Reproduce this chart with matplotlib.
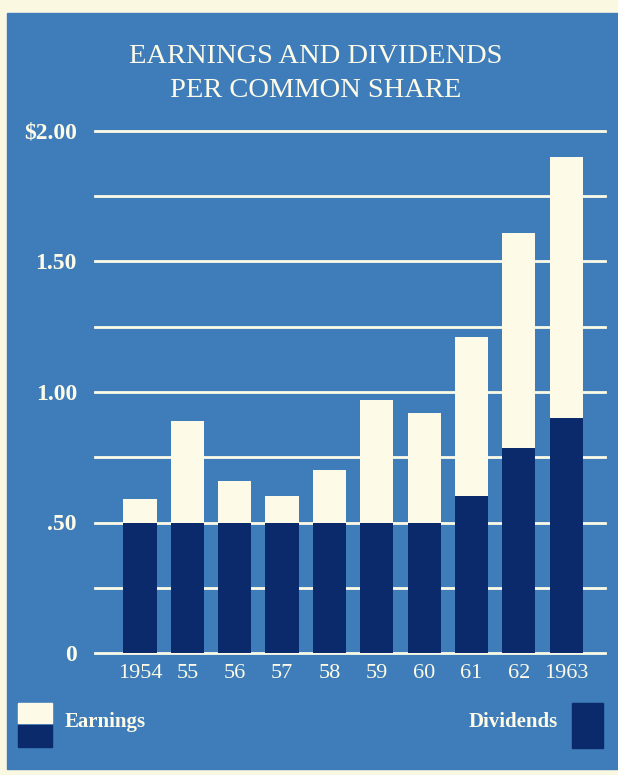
import matplotlib.pyplot as plt
from matplotlib.patches import Rectangle

# Earnings and dividends per common share, 1954-1963
years = ["1954", "55", "56", "57", "58", "59", "60", "61", "62", "1963"]
earnings = [0.59, 0.89, 0.66, 0.60, 0.70, 0.97, 0.92, 1.21, 1.61, 1.90]
dividends = [0.50, 0.50, 0.50, 0.50, 0.50, 0.50, 0.50, 0.60, 0.785, 0.90]
ytick_vals = [0, 0.5, 1.0, 1.5, 2.0]
ytick_labels = ["0", ".50", "1.00", "1.50", "$2.00"]

bg = "#3f7dba"
navy = "#0b2a6b"
cream = "#fdfbe8"
paper = "#fbf8e2"

plt.rcParams["font.family"] = ["Liberation Serif", "DejaVu Serif"]

fig = plt.figure(figsize=(6.18, 7.75), dpi=100)
fig.patch.set_facecolor(paper)
# blue panel
fig.patches.append(Rectangle((7 / 618, 6 / 775), 1, 756 / 775,
                             transform=fig.transFigure, color=bg, zorder=-5))

ax = fig.add_axes([95 / 618, 122 / 775, 510 / 618, 522 / 775])
ax.set_facecolor("none")
ax.set_xlim(-0.95, 9.82)
ax.set_ylim(0, 2.0)

for g in [0, 0.25, 0.5, 0.75, 1.0, 1.25, 1.5, 1.75, 2.0]:
    ax.axhline(g, color=cream, lw=2, zorder=1, clip_on=False)

x = range(len(years))
ax.bar(x, earnings, width=0.70, color=cream, zorder=2)
ax.bar(x, dividends, width=0.70, color=navy, zorder=3)

for s in ax.spines.values():
    s.set_visible(False)
ax.set_xticks(list(x))
ax.set_xticklabels(years, fontsize=16, color=cream)
ax.set_yticks(ytick_vals)
ax.set_yticklabels(ytick_labels, fontsize=17, fontweight="bold", color=cream)
ax.tick_params(length=0)
ax.tick_params(axis="y", pad=13)
ax.tick_params(axis="x", pad=8)

fig.text(316 / 618, 1 - 63 / 775, "EARNINGS AND DIVIDENDS", ha="center",
         va="baseline", fontsize=20.5, color=cream)
fig.text(316 / 618, 1 - 97 / 775, "PER COMMON SHARE", ha="center",
         va="baseline", fontsize=20.5, color=cream)

# legend
fig.patches.append(Rectangle((18 / 618, 1 - 723 / 775), 34 / 618, 20 / 775,
                             transform=fig.transFigure, color=cream, zorder=2))
fig.patches.append(Rectangle((18 / 618, 1 - 747 / 775), 34 / 618, 22 / 775,
                             transform=fig.transFigure, color=navy, zorder=2))
fig.text(65 / 618, 1 - 722 / 775, "Earnings", ha="left", va="center",
         fontsize=15, fontweight="bold", color=cream)
fig.patches.append(Rectangle((572 / 618, 1 - 748 / 775), 31 / 618, 45 / 775,
                             transform=fig.transFigure, color=navy, zorder=2))
fig.text(558 / 618, 1 - 722 / 775, "Dividends", ha="right", va="center",
         fontsize=15, fontweight="bold", color=cream)

fig.savefig("out.png", dpi=100, facecolor=fig.get_facecolor())
